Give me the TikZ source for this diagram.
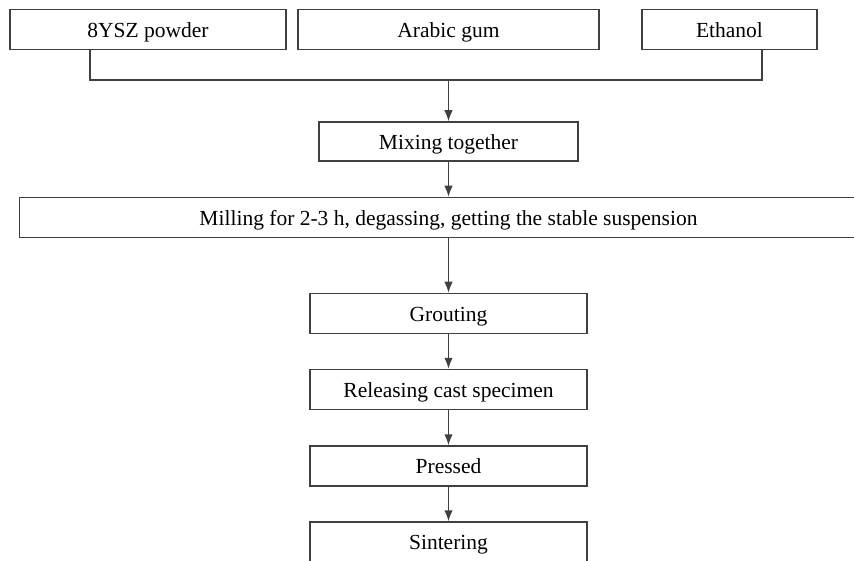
\documentclass[tikz,border=0pt]{standalone}
\usepackage{fontspec}
\setmainfont{Liberation Serif}
\usetikzlibrary{arrows.meta,positioning}
\begin{document}
\begin{tikzpicture}[x=1pt, y=-1pt, every node/.style={font=\fontsize{21.5}{25}\selectfont}]

	\tikzset{
	stepbox/.style={draw=black!75, line width=1.5pt, minimum height=40pt, inner sep=0pt, text height=17pt, text depth=1.4pt, align=center},
	flow/.style={draw=black!75, line width=1.5pt, -{Latex[length=11pt,width=8.5pt]}}
	}

	\useasboundingbox (0,0) rectangle (854,561);

	% Nodes
	\node[stepbox, minimum width=276pt] (ysz) at (148,29.5) {8YSZ powder};
	\node[stepbox, minimum width=301pt] (gum) at (448.5,29.5) {Arabic gum};
	\node[stepbox, minimum width=175pt] (eth) at (729.5,29.5) {Ethanol};
	\coordinate (join) at (448.5,80);

	\node[stepbox, minimum width=259pt, minimum height=39pt, node distance=112pt, below of=gum] (mix) {Mixing together};
	\node[stepbox, minimum width=858pt, node distance=76pt, below of=mix] (mill) {Milling for 2-3 h, degassing, getting the stable suspension};
	\node[stepbox, minimum width=277pt, node distance=96pt, below of=mill] (grout) {Grouting};
	\node[stepbox, minimum width=277pt, node distance=76pt, below of=grout] (release) {Releasing cast specimen};
	\node[stepbox, minimum width=277pt, node distance=76.5pt, below of=release] (press) {Pressed};
	\node[stepbox, minimum width=277pt, node distance=76pt, below of=press] (sinter) {Sintering};

	% Lines
	\draw[draw=black!75, line width=1.5pt] ([xshift=-58pt]ysz.south) |- (join) -| ([xshift=32.5pt]eth.south);
	\draw[flow] (join) -- (mix);
	\draw[flow] (mix) -- (mill);
	\draw[flow] (mill) -- (grout);
	\draw[flow] (grout) -- (release);
	\draw[flow] (release) -- (press);
	\draw[flow] (press) -- (sinter);

\end{tikzpicture}
\end{document}
